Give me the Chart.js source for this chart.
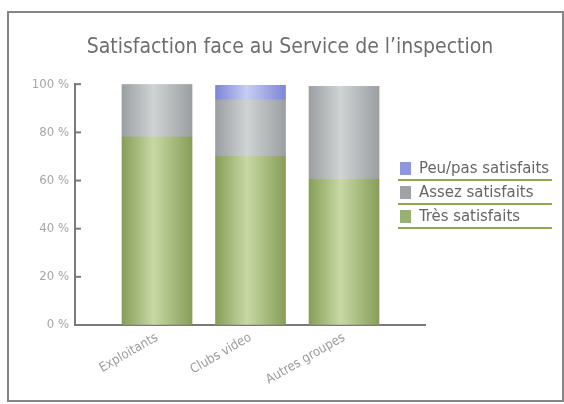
<!DOCTYPE html>
<html>
<head>
<meta charset="utf-8">
<script src="https://cdn.jsdelivr.net/npm/chart.js@4"></script>
<style>
  html, body { margin:0; padding:0; background:#fff; }
  #wrap { position:relative; width:564px; height:404px; overflow:hidden; }
  #frame { position:absolute; left:7px; top:11px; width:553px; height:387px; border:2px solid #858585; box-sizing:content-box; pointer-events:none; }
  #legend { position:absolute; left:398px; top:157px; width:154px; font-family:'Liberation Sans Narrow','DejaVu Sans Condensed',sans-serif; font-size:16.6px; color:#666; white-space:nowrap; }
  .item { height:22px; line-height:22px; border-bottom:2px solid #8fa84e; display:flex; align-items:center; }
  .sw { width:11px; height:13px; margin-left:2px; margin-right:8px; flex:none; }
  canvas { position:absolute; left:0; top:0; }
</style>
</head>
<body>
<div id="wrap">
  <canvas id="c" width="564" height="404"></canvas>
  <div id="frame"></div>
  <div id="legend"></div>
</div>
<script>
const categories = ['Exploitants', 'Clubs video', 'Autres groupes'];
const tresSatisfaits = [78, 70, 60.5];
const assezSatisfaits = [22, 23.5, 38.5];
const peuSatisfaits = [0, 6, 0];
const yTickValues = [0, 20, 40, 60, 80, 100];
const seriesLabels = ['Très satisfaits', 'Assez satisfaits', 'Peu/pas satisfaits'];

const FONT = "'Liberation Sans Narrow','DejaVu Sans Condensed',sans-serif";
const BAR_W = 70;

function gradient(edge, mid, swatch) {
  return function(ctx) {
    const chart = ctx.chart;
    if (!chart.chartArea || ctx.dataIndex === undefined) return swatch;
    const xs = chart.scales.x;
    const cx = xs.getPixelForValue(ctx.dataIndex);
    const g = chart.ctx.createLinearGradient(cx - BAR_W / 2, 0, cx + BAR_W / 2, 0);
    g.addColorStop(0, edge);
    g.addColorStop(0.45, mid);
    g.addColorStop(1, edge);
    return g;
  };
}

const styles = [
  { edge: '#879e58', mid: '#c8d8a4', swatch: '#98b070' },
  { edge: '#9b9fa1', mid: '#d0d3d4', swatch: '#a0a3a5' },
  { edge: '#7d86d6', mid: '#c6cdf3', swatch: '#8e96e0' }
];
const seriesValues = [tresSatisfaits, assezSatisfaits, peuSatisfaits];

const datasets = seriesValues.map((vals, k) => ({
  label: seriesLabels[k],
  data: categories.map((c, i) => ({ x: i, y: vals[i] })),
  backgroundColor: gradient(styles[k].edge, styles[k].mid, styles[k].swatch),
  borderWidth: 0,
  barThickness: BAR_W
}));

const innerTicks = {
  id: 'innerTicks',
  afterDraw(chart) {
    const ys = chart.scales.y;
    const c = chart.ctx;
    c.save();
    c.strokeStyle = '#7a7a7a';
    c.lineWidth = 2;
    ys.ticks.forEach(t => {
      if (t.value === 0) return;
      const y = ys.getPixelForValue(t.value);
      c.beginPath();
      c.moveTo(ys.right - 1, y);
      c.lineTo(ys.right + 6, y);
      c.stroke();
    });
    c.restore();
  }
};

new Chart(document.getElementById('c'), {
  type: 'bar',
  data: { datasets },
  plugins: [innerTicks],
  options: {
    responsive: false,
    animation: false,
    layout: { padding: { left: 16, right: 0, top: 0, bottom: 0 } },
    plugins: {
      legend: { display: false },
      tooltip: { enabled: false },
      title: {
        display: true,
        text: 'Satisfaction face au Service de l\u2019inspection',
        color: '#6e6e6e',
        font: { family: FONT, size: 21, weight: 'normal', lineHeight: 1.2 },
        padding: { top: 35, bottom: 24 },
        align: 'center'
      }
    },
    scales: {
      x: {
        type: 'linear',
        stacked: true,
        offset: false,
        min: -0.877,
        max: 2.866,
        afterBuildTicks: s => { s.ticks = categories.map((c, i) => ({ value: i })); },
        afterFit: s => { s.height = 79; },
        ticks: {
          callback: v => categories[v],
          minRotation: 30,
          maxRotation: 30,
          autoSkip: false,
          color: '#9c9c9c',
          font: { family: FONT, size: 13 },
          padding: 5
        },
        grid: { offset: false, drawOnChartArea: false, drawTicks: false },
        border: { display: true, color: '#7a7a7a', width: 2 }
      },
      y: {
        stacked: true,
        min: 0,
        max: 100,
        afterBuildTicks: s => { s.ticks = yTickValues.map(v => ({ value: v })); },
        afterFit: s => { s.width = 59; },
        ticks: {
          callback: v => v + ' %',
          color: '#a6a6a6',
          font: { family: FONT, size: 13 },
          padding: 6
        },
        grid: { drawOnChartArea: false, drawTicks: false },
        border: { display: true, color: '#7a7a7a', width: 2 }
      },
      legendSpace: {
        type: 'linear',
        position: 'right',
        display: true,
        afterFit: s => { s.width = 139; },
        ticks: { display: false },
        grid: { display: false, drawTicks: false },
        border: { display: false }
      }
    }
  }
});

const legend = document.getElementById('legend');
[2, 1, 0].forEach(k => {
  const it = document.createElement('div');
  it.className = 'item';
  const sw = document.createElement('span');
  sw.className = 'sw';
  sw.style.background = styles[k].swatch;
  const tx = document.createElement('span');
  tx.textContent = seriesLabels[k];
  it.appendChild(sw);
  it.appendChild(tx);
  legend.appendChild(it);
});
</script>
</body>
</html>
